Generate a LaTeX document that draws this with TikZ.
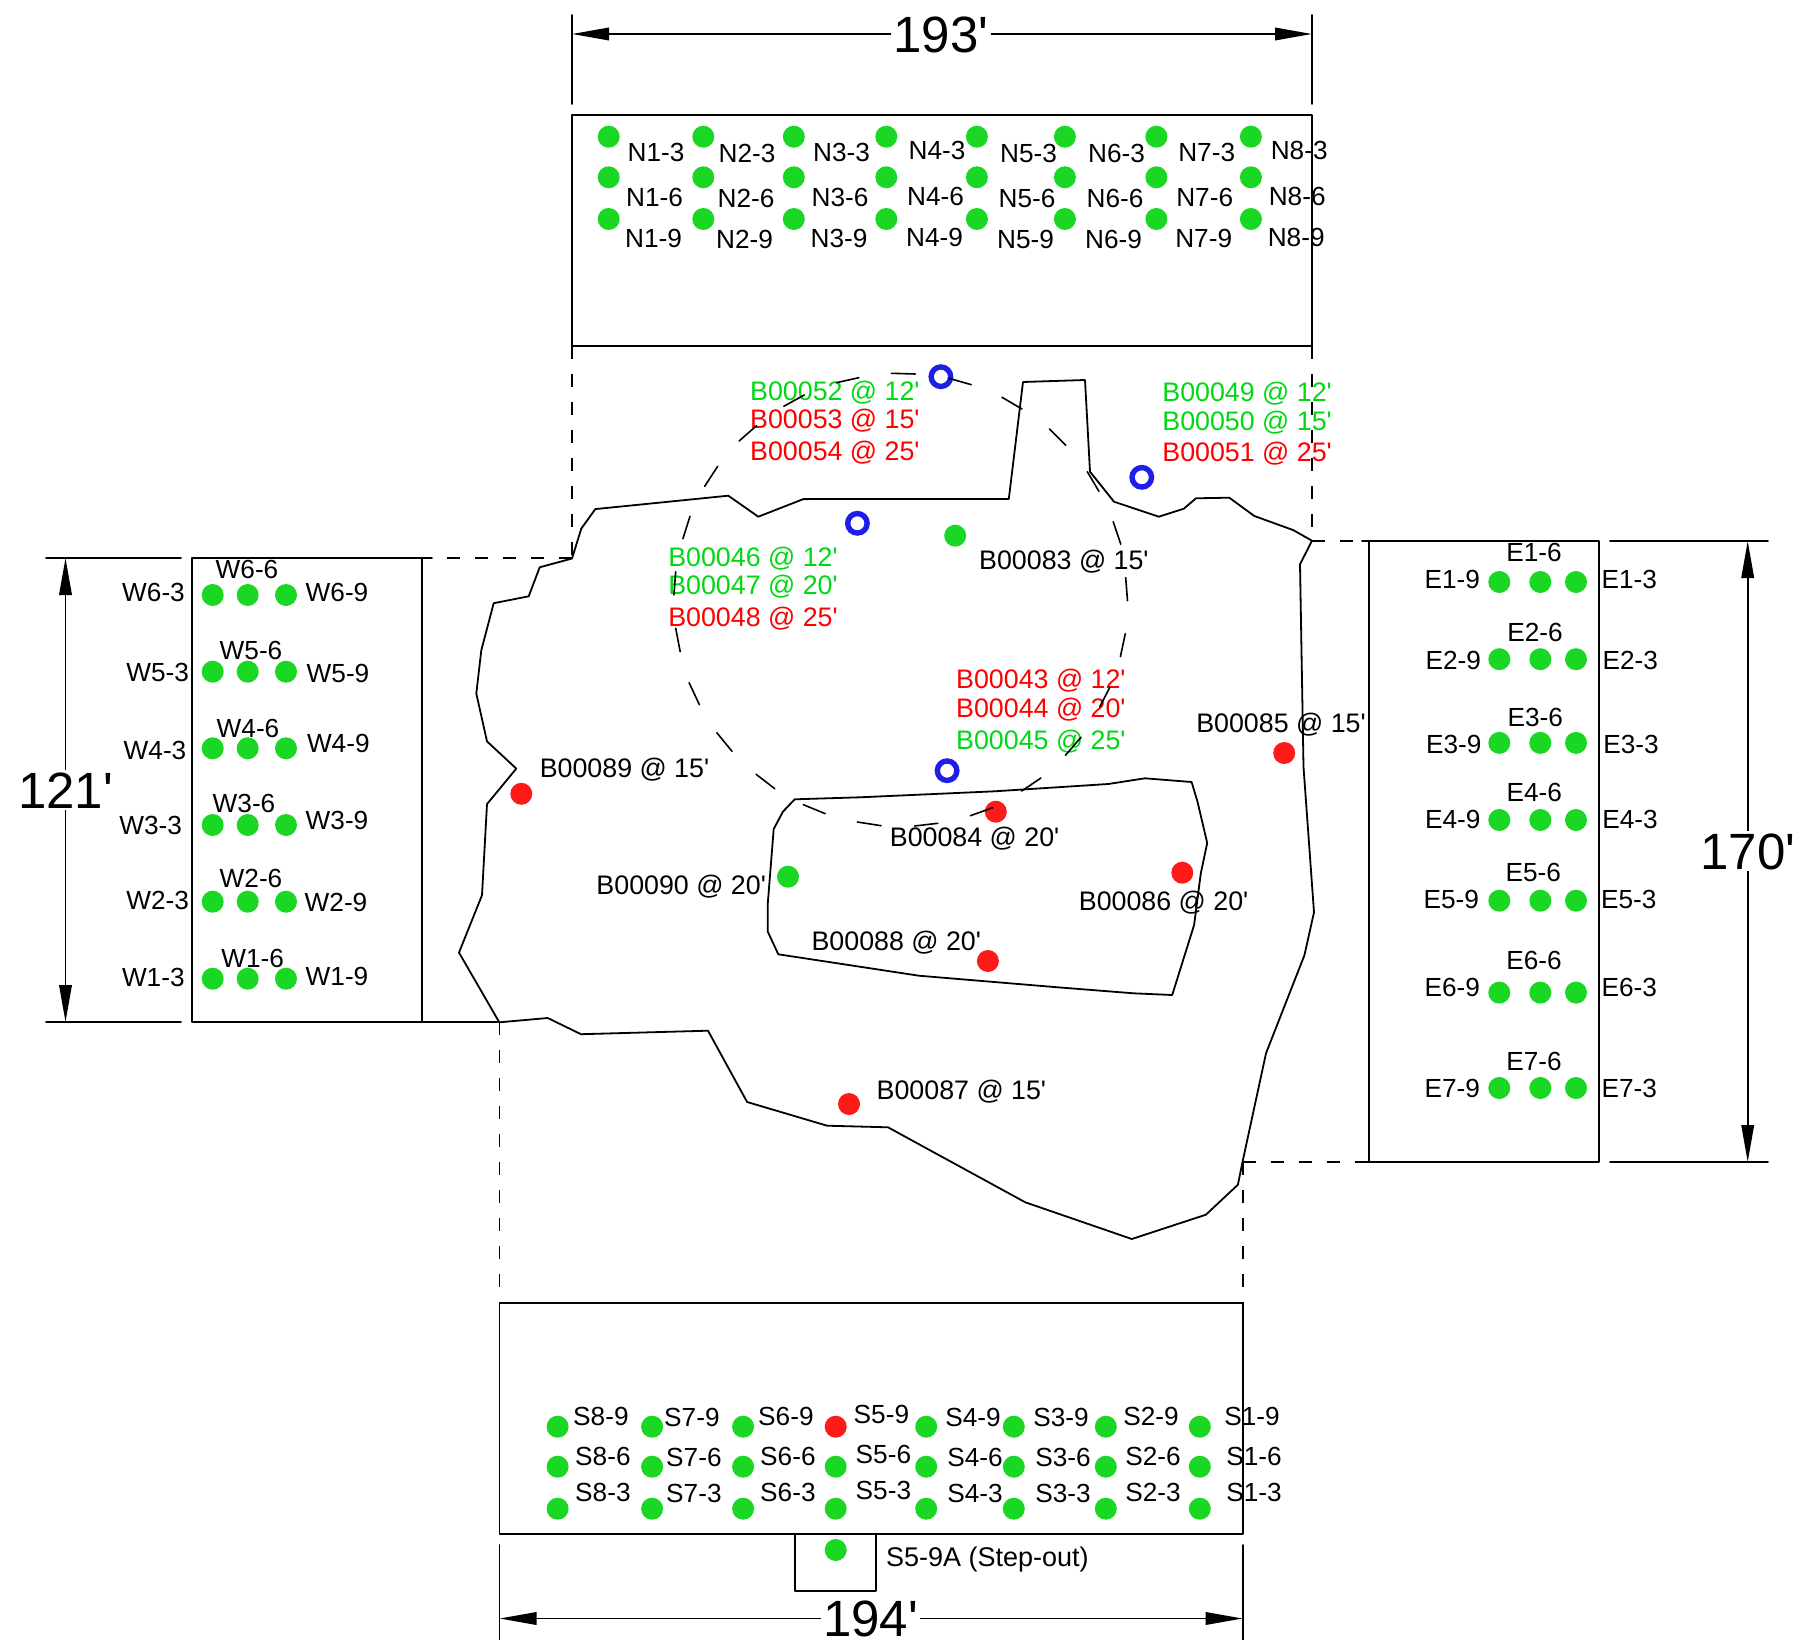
\documentclass[tikz,border=0pt]{standalone}
\usepackage{fontspec}
\newfontfamily\plainsans{Liberation Sans}
\usetikzlibrary{arrows.meta}
\definecolor{dotgreen}{HTML}{1AD723}
\definecolor{dotred}{HTML}{FF1A1A}
\definecolor{txtgreen}{HTML}{00D814}
\definecolor{txtred}{HTML}{FF0000}
\definecolor{ringblue}{HTML}{1E1EE6}
\tikzset{
  plan/.style={line width=1.8pt,line join=round,line cap=round,draw=black},
  dashline/.style={line width=1.8pt,draw=black,dash pattern=on 13pt off 15pt},
  arcdash/.style={line width=1.6pt,draw=black,line cap=round},
  dimline/.style={line width=1.9pt,draw=black,-{Triangle[length=37pt,width=12.5pt]}},
  dimtext/.style={font=\plainsans\fontsize{51}{51}\selectfont,inner sep=2pt,text height=36.5pt,text depth=0pt},
  lab/.style={font=\plainsans\fontsize{26.2}{27}\selectfont,inner sep=0pt,text height=18.8pt,text depth=0pt},
  blab/.style={font=\plainsans\fontsize{26.8}{27}\selectfont,inner sep=0pt,text height=19.2pt,text depth=0pt},
  gdot/.style={circle,fill=dotgreen,inner sep=0pt,minimum size=22pt},
  rdot/.style={circle,fill=dotred,inner sep=0pt,minimum size=22pt},
  ring/.style={circle,draw=ringblue,line width=5.4pt,fill=none,inner sep=0pt,minimum size=19.5pt}
}
\begin{document}
\begin{tikzpicture}[x=1pt,y=-1pt]
\useasboundingbox (0,0) rectangle (1797,1640);
% sample boxes
\draw[plan] (572,115) rectangle (1312,346);
\draw[plan] (192,558) rectangle (422,1022);
\draw[plan] (1369,541) rectangle (1599,1162);
\draw[plan] (499.5,1303) rectangle (1242.6,1534);
\draw[plan] (794.9,1534) rectangle (876,1591);
\draw[plan] (422,558) -- (432,558);
\draw[plan] (422,1022) -- (499.3,1022);
\draw[plan] (1357,1162) -- (1369,1162);
\draw[plan] (1362,541) -- (1369,541);
% dashed projections
\draw[dashline] (572,346) -- (572,558);
\draw[dashline] (1312,346) -- (1312,541);
\draw[dashline] (499.5,1022) -- (499.5,1303);
\draw[dashline] (1242.6,1162) -- (1242.6,1303);
\draw[dashline] (447,558) -- (572,558);
\draw[dashline] (1312,541) -- (1362,541);
\draw[dashline] (1242.6,1162) -- (1357,1162);
% excavation boundary
\draw[plan] (572,558.5) -- (581.3,528.6) -- (595.3,509.1) -- (728.3,495.7) -- (758.3,516.7) -- (803.3,499.1) -- (1008.8,499) -- (1023,382) -- (1085,380) -- (1090,471.7) -- (1114,501.7) -- (1158.8,516.7) -- (1183.8,508.7) -- (1196,498.3) -- (1229.3,497.7) -- (1254.3,516) -- (1293,530) -- (1312,540.7) -- (1300,564.3) -- (1303.5,767) -- (1314,912.3) -- (1304.4,955.3) -- (1266,1053.3) -- (1242.5,1162) -- (1237.9,1184.7) -- (1205.9,1214.7) -- (1131.8,1239) -- (1025.3,1202.3) -- (888,1127.3) -- (827.1,1125.7) -- (747.1,1102) -- (708,1030.7) -- (581,1034.2) -- (547.7,1018) -- (499.3,1022.3) -- (459,952.6) -- (482,895.2) -- (487,804.1) -- (516.3,768.6) -- (487,741.4) -- (476.3,693.5) -- (481.3,650.3) -- (493.7,603.2) -- (528.7,596.3) -- (539.7,567.3) -- cycle;
% inner excavation
\draw[plan] (794.7,799.3) -- (860,797.3) -- (994.6,791.3) -- (1108.3,784) -- (1144.9,778.3) -- (1191.6,782) -- (1197.5,801.7) -- (1207.2,843) -- (1200.8,873.3) -- (1194.1,925) -- (1172.2,995) -- (1133.5,993.3) -- (1057.7,987.3) -- (918.9,975.7) -- (778.3,954.3) -- (767.8,931.7) -- (767.8,903.3) -- (773.7,829) -- (782.9,811.7) -- cycle;
% extension lines
\draw[plan] (572,15) -- (572,104);
\draw[plan] (1312,15) -- (1312,104);
\draw[plan] (46,558) -- (181,558);
\draw[plan] (46,1022) -- (181,1022);
\draw[plan] (1610,541) -- (1768,541);
\draw[plan] (1610,1162) -- (1768,1162);
\draw[plan] (499.5,1545) -- (499.5,1640);
\draw[plan] (1242.6,1545) -- (1242.6,1640);
% dimensions
\node[dimtext] (dimN) at (941,34) {193'};
\node[dimtext] (dimW) at (65.5,790) {121'};
\node[dimtext] (dimE) at (1747.7,851) {170'};
\node[dimtext] (dimS) at (870.5,1618.5) {194'};
\coordinate (dimNa) at (572,34);
\coordinate (dimNb) at (1312,34);
\coordinate (dimWa) at (65.5,558);
\coordinate (dimWb) at (65.5,1022);
\coordinate (dimEa) at (1747.7,541);
\coordinate (dimEb) at (1747.7,1162);
\coordinate (dimSa) at (499.5,1618.5);
\coordinate (dimSb) at (1242.6,1618.5);
\draw[dimline] (dimN) -- (dimNa);
\draw[dimline] (dimN) -- (dimNb);
\draw[dimline] (dimW) -- (dimWa);
\draw[dimline] (dimW) -- (dimWb);
\draw[dimline] (dimE) -- (dimEa);
\draw[dimline] (dimE) -- (dimEb);
\draw[dimline] (dimS) -- (dimSa);
\draw[dimline] (dimS) -- (dimSb);
% green sample points
\foreach \px in {608.7,703.3,793.8,886.3,976.9,1064.9,1156.4,1250.9}
  \foreach \py in {136.7,177.3,219}
    \node[gdot] (n\px-\py) at (\px,\py) {};
\foreach \px in {212.7,247.7,286}
  \foreach \py in {595,671.7,748.3,825,901.7,978.7}
    \node[gdot] (w\px-\py) at (\px,\py) {};
\foreach \px in {1499.3,1540.3,1576}
  \foreach \py in {582,659.2,742.9,820,900.7,992.6,1088}
    \node[gdot] (e\px-\py) at (\px,\py) {};
\foreach \px in {557.6,652.1,743.1,835.7,926.2,1013.8,1105.8,1199.8}
  \foreach \py in {1466.7,1508.7}
    \node[gdot] (s\px-\py) at (\px,\py) {};
\foreach \px in {557.6,652.1,743.1,926.2,1013.8,1105.8,1199.8}
  \node[gdot] (s\px-top) at (\px,1426.7) {};
\node[rdot] (s59) at (835.7,1426.7) {};
\node[gdot] (s59a) at (835.7,1550) {};
% boring points
\node[gdot] (p83) at (955.2,535.7) {};
\node[gdot] (p90) at (788,876.7) {};
\node[rdot] (p84) at (995.8,811.7) {};
\node[rdot] (p85) at (1284.2,753) {};
\node[rdot] (p86) at (1182.3,872.7) {};
\node[rdot] (p87) at (849,1104) {};
\node[rdot] (p88) at (987.9,961) {};
\node[rdot] (p89) at (521.3,793.8) {};
\node[ring] (r1) at (940.9,376.7) {};
\node[ring] (r2) at (1141.8,477.3) {};
\node[ring] (r3) at (857.4,523.3) {};
\node[ring] (r4) at (947.1,770.7) {};
% sample labels
\foreach \px/\py/\t [count=\c] in {
 656/152/N1-3,747/153/N2-3,841.6/152/N3-3,937/150/N4-3,1028.6/153/N5-3,1116.6/153/N6-3,1206.7/152/N7-3,1299.2/150/N8-3,
 654.5/197/N1-6,746/198/N2-6,840/197/N3-6,935.6/196/N4-6,1027/198/N5-6,1115/198/N6-6,1204.7/197/N7-6,1297.2/196/N8-6,
 653.5/238/N1-9,744.6/239/N2-9,839/238/N3-9,934.6/237/N4-9,1025.6/239/N5-9,1113.6/239/N6-9,1203.7/238/N7-9,1296.2/237/N8-9,
 247/569/W6-6,153.5/591.7/W6-3,337/591.7/W6-9,
 251/650/W5-6,157.7/672/W5-3,338/672.7/W5-9,
 248/727.7/W4-6,155/750/W4-3,338.3/743/W4-9,
 244/802.7/W3-6,150.7/825/W3-3,337/820/W3-9,
 251/877.7/W2-6,157.7/900/W2-3,336/901.7/W2-9,
 252.7/958.3/W1-6,153.3/977.3/W1-3,337/975.7/W1-9,
 1534/552/E1-6,1452.3/579.4/E1-9,1629.3/579.4/E1-3,
 1535/632.3/E2-6,1453.3/659.6/E2-9,1630.3/659.6/E2-3,
 1535.3/716.9/E3-6,1453.7/744.2/E3-9,1631/744.2/E3-3,
 1534.3/791.9/E4-6,1452.7/819.2/E4-9,1630/819.2/E4-3,
 1533.3/872.1/E5-6,1451.3/899/E5-9,1628.7/899/E5-3,
 1534/960.1/E6-6,1452.3/987/E6-9,1629.3/987/E6-3,
 1534/1060.7/E7-6,1452.3/1087.6/E7-9,1629.3/1087.6/E7-3,
 600.9/1416/S8-9,691.9/1417.3/S7-9,785.9/1416/S6-9,881.4/1414.3/S5-9,973/1417.3/S4-9,1061/1417.3/S3-9,1151/1416/S2-9,1252/1416/S1-9,
 602.9/1456/S8-6,693.9/1457.3/S7-6,787.9/1456/S6-6,883.4/1454.3/S5-6,975/1457.3/S4-6,1063/1457.3/S3-6,1153/1456/S2-6,1254/1456/S1-6,
 602.9/1491.7/S8-3,693.9/1493.3/S7-3,787.9/1491.7/S6-3,883.4/1490/S5-3,975/1493.3/S4-3,1063/1493.3/S3-3,1153/1491.7/S2-3,1254/1491.7/S1-3}
  \node[lab] (lab\c) at (\px,\py) {\t};
\node[lab,font=\plainsans\fontsize{27}{27}\selectfont] (labstep) at (987.3,1557) {S5-9A (Step-out)};
% boring labels
\foreach \px/\py/\t [count=\c] in {
 1063.9/560/B00083 @ 15',974.6/837.3/B00084 @ 20',1281/722.7/B00085 @ 15',1163.6/900.7/B00086 @ 20',
 961.4/1090/B00087 @ 15',896.3/940.7/B00088 @ 20',624.5/768.2/B00089 @ 15',681.2/884.5/B00090 @ 20'}
  \node[blab] (bk\c) at (\px,\py) {\t};
\foreach \px/\py/\t [count=\c] in {
 834.9/390.7/B00052 @ 12',1247.1/392.3/B00049 @ 12',1247.1/420.7/B00050 @ 15',
 753/556.7/B00046 @ 12',753/585/B00047 @ 20',1040.9/740/B00045 @ 25'}
  \node[blab,text=txtgreen] (bg\c) at (\px,\py) {\t};
\foreach \px/\py/\t [count=\c] in {
 834.9/419/B00053 @ 15',834.9/450.7/B00054 @ 25',1247.1/452.3/B00051 @ 25',
 753/616.7/B00048 @ 25',1040.9/679.3/B00043 @ 12',1040.9/708.3/B00044 @ 20'}
  \node[blab,text=txtred] (br\c) at (\px,\py) {\t};
% dashed ring, piece by piece
\draw[arcdash]
 (836.4,382.7) -- (858.8,377.7) (891.3,373.3) -- (915.4,374) (948.9,378.3) -- (971.3,384.7)
 (1002,397.3) -- (1022,409) (1049.4,429) -- (1065.9,445.3) (1087.3,471.7) -- (1098.9,491.3)
 (1113.2,521.7) -- (1120.8,544.3) (1125.7,577.7) -- (1127.5,600.7) (1125.3,633.7) -- (1120.4,656.7)
 (1109.6,687.7) -- (1099.8,706.7) (1081,737.3) -- (1065.4,755.3) (1040.9,778) -- (1021.7,791)
 (992.7,807.7) -- (970.4,815.7) (937.8,823.3) -- (914.6,826) (881.1,825.7) -- (857.4,822)
 (825.3,813.7) -- (803.4,804.7) (774.8,788.7) -- (756.1,774.3) (732,751.3) -- (716.8,732.7)
 (699.4,704.7) -- (689.1,682.7) (680.2,651.7) -- (675.7,628.3) (673.9,595) -- (675.7,571.7)
 (682.9,538.7) -- (690,516.3) (704.7,486.3) -- (717.7,466.3) (739.1,441) -- (756.5,425.7)
 (783.8,406.3) -- (804.3,395);
\end{tikzpicture}
\end{document}
